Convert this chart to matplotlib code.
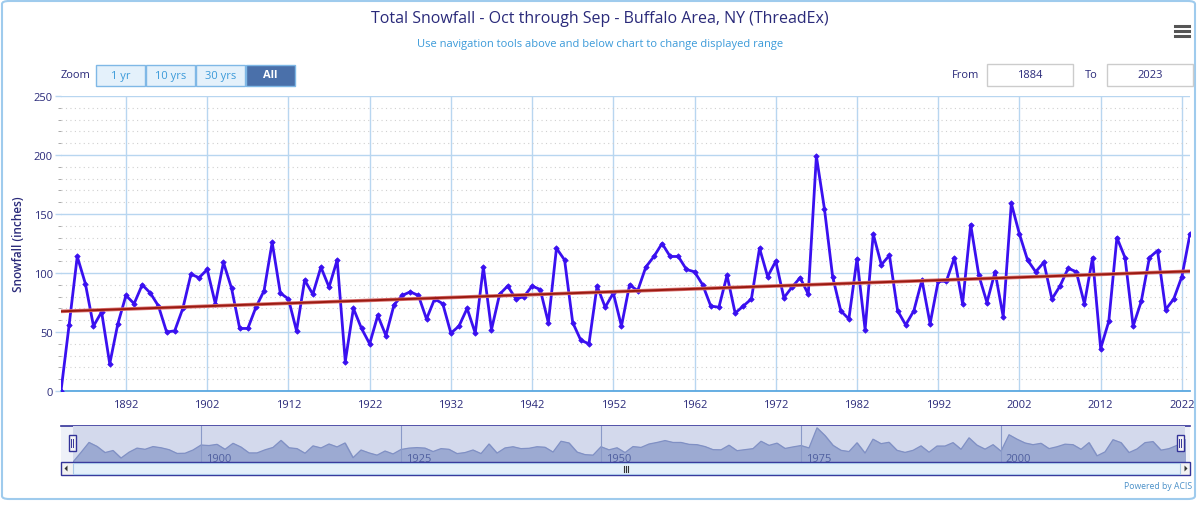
import numpy as np
import matplotlib
matplotlib.use("Agg")
import matplotlib.pyplot as plt
from matplotlib.patches import FancyBboxPatch, Rectangle, Polygon

# ---------------- data ----------------
years = list(range(1884, 2024))
snowfall = [
    0, 56, 114, 91, 55, 67, 23, 57, 81, 74,            # 1884-1893
    90, 83, 72, 50, 51, 70, 99, 96, 103, 74,           # 1894-1903
    109, 87, 53, 53, 71, 85, 126, 83, 78, 51,          # 1904-1913
    94, 82, 105, 88, 111, 25, 70, 53, 40, 64,          # 1914-1923
    47, 73, 81, 84, 81, 61, 78, 74, 49, 55,            # 1924-1933
    70, 49, 105, 52, 82, 89, 78, 80, 89, 86,           # 1934-1943
    58, 121, 111, 58, 43, 40, 89, 71, 83, 55,          # 1944-1953
    90, 85, 105, 114, 125, 114, 114, 103, 101, 90,     # 1954-1963
    72, 71, 98, 66, 72, 78, 121, 97, 110, 79,          # 1964-1973
    88, 96, 82, 199, 154, 97, 68, 61, 112, 52,         # 1974-1983
    133, 107, 115, 68, 56, 68, 94, 57, 93, 93,         # 1984-1993
    113, 74, 141, 98, 75, 101, 63, 159, 133, 111,      # 1994-2003
    101, 109, 78, 89, 104, 101, 74, 113, 36, 59,       # 2004-2013
    130, 113, 55, 76, 113, 119, 69, 78, 97, 133,       # 2014-2023
]
trend_start, trend_end = 67.5, 101.5   # trend line values at 1884 and 2023
x_ticks = list(range(1892, 2023, 10))
y_ticks = [0, 50, 100, 150, 200, 250]
nav_labels = [1900, 1925, 1950, 1975, 2000]

title = "Total Snowfall - Oct through Sep - Buffalo Area, NY (ThreadEx)"
subtitle = "Use navigation tools above and below chart to change displayed range"

W, H = 1200, 506
plt.rcParams['font.family'] = ['Open Sans', 'DejaVu Sans']
fig = plt.figure(figsize=(W / 100, H / 100), dpi=100)

def fx(px):
    return px / W

def fy(py):
    return 1 - py / H

NAVY = '#2a2a7a'
LBLUE = '#3b9ad9'
GRID = '#b8d6f0'

# outer border
fig.patches.append(FancyBboxPatch((fx(2), fy(500)), fx(1195) - fx(2), fy(2) - fy(500),
                                  boxstyle="round,pad=0,rounding_size=0.006",
                                  transform=fig.transFigure, fill=False,
                                  edgecolor='#9fcbed', linewidth=1.5))

fig.text(0.5, fy(19), title, ha='center', va='center', fontsize=11.5, color=NAVY)
fig.text(0.5, fy(45), subtitle, ha='center', va='center', fontsize=8, color=LBLUE)

# hamburger icon
for dy in (-5, 0, 5):
    fig.add_artist(plt.Line2D([fx(1175), fx(1189)], [fy(32 + dy)] * 2,
                              transform=fig.transFigure, color='#555555', linewidth=2.2))

# zoom buttons
fig.text(fx(76), fy(76), "Zoom", ha='center', va='center', fontsize=8, color=NAVY)
btns = [("1 yr", 96), ("10 yrs", 146), ("30 yrs", 196), ("All", 246)]
for lab, x0 in btns:
    sel = lab == "All"
    fig.patches.append(Rectangle((fx(x0), fy(87)), fx(49), fy(66) - fy(87),
                                 transform=fig.transFigure,
                                 facecolor='#4a70aa' if sel else '#e4f1fb',
                                 edgecolor='#7fb8e6', linewidth=1))
    fig.text(fx(x0 + 24.5), fy(76), lab, ha='center', va='center', fontsize=8,
             color='white' if sel else LBLUE, fontweight='bold' if sel else 'normal')

# From / To boxes
fig.text(fx(966), fy(75), "From", ha='center', va='center', fontsize=8, color=NAVY)
fig.text(fx(1091), fy(75), "To", ha='center', va='center', fontsize=8, color=NAVY)
for val, x0 in ((str(years[0]), 987), (str(years[-1]), 1107)):
    fig.patches.append(Rectangle((fx(x0), fy(87)), fx(86), fy(65) - fy(87),
                                 transform=fig.transFigure, facecolor='white',
                                 edgecolor='#cccccc', linewidth=1))
    fig.text(fx(x0 + 43), fy(76), val, ha='center', va='center', fontsize=8, color=NAVY)

# ---------------- main plot ----------------
ax = fig.add_axes([fx(61), fy(392), fx(1190) - fx(61), fy(97) - fy(392)])
ax.set_xlim(years[0], years[-1])
ax.set_ylim(0, 250)
ax.set_yticks(y_ticks)
ax.set_yticks(np.arange(0, 251, 10), minor=True)
ax.set_xticks(x_ticks)
ax.grid(True, which='major', axis='both', color=GRID, linewidth=1)
ax.grid(True, which='minor', axis='y', color='#d0d0d0', linewidth=0.8, linestyle=(0, (1, 3)))
ax.set_axisbelow(True)
for s in ('top', 'right', 'left'):
    ax.spines[s].set_visible(False)
ax.spines['bottom'].set_color('#5aa8e0')
ax.spines['bottom'].set_linewidth(1.3)
ax.tick_params(axis='x', which='both', length=0, colors=NAVY, labelsize=8, pad=6)
ax.tick_params(axis='y', which='major', length=4, color=GRID, width=1,
               labelcolor=NAVY, labelsize=8, pad=2)
ax.tick_params(axis='y', which='minor', length=2, color='#aaaaaa', width=0.7, direction='out')
ax.set_ylabel("Snowfall (inches)", color=NAVY, fontsize=8.5, labelpad=6, fontweight='semibold')

ax.plot(years, snowfall, color='#3a10f0', linewidth=2, marker='D', markersize=2.8,
        markeredgewidth=0.5, zorder=3)
ax.plot([years[0], years[-1]], [trend_start, trend_end], color='#d87070',
        linewidth=2.6, zorder=4, solid_capstyle='butt')
ax.plot([years[0], years[-1]], [trend_start, trend_end], color='#9a1a10',
        linewidth=1.4, zorder=5)

# ---------------- navigator ----------------
nav_bg = fig.add_axes([fx(61), fy(463), fx(1190) - fx(61), fy(427) - fy(463)])
nav_bg.set_xlim(0, 1)
nav_bg.set_ylim(0, 1)
nav_bg.axis('off')
nav_bg.add_patch(Rectangle((0, 0), 1, 1, facecolor='#eef1f8', edgecolor='none'))
nav_bg.plot([0, 1], [1, 1], color='#333399', linewidth=1.2, clip_on=False)

nav = fig.add_axes([fx(73), fy(463), fx(1185) - fx(73), fy(427) - fy(463)])
nav.set_xlim(years[0], years[-1])
nav.set_ylim(0, 210)
nav.axis('off')
nav.add_patch(Rectangle((years[0], 0), years[-1] - years[0], 210,
                        facecolor='#d3d9ec', edgecolor='none', zorder=0))
nav.fill_between(years, snowfall, 0, color='#9caad2', zorder=1)
nav.plot(years, snowfall, color='#8090c4', linewidth=0.9, zorder=2)
for yv in nav_labels:
    nav.axvline(yv, color='#8a9ac8', linewidth=0.8, zorder=2)
    nav.text(yv + 0.6, 20, str(yv), fontsize=8, color='#5060a0', ha='left', va='center', zorder=3)

# handles
for px in (72, 1180):
    fig.patches.append(Rectangle((fx(px - 3.5), fy(452)), fx(7), fy(436) - fy(452),
                                 transform=fig.transFigure, facecolor='#f4f4f4',
                                 edgecolor='#333399', linewidth=1))
    fig.add_artist(plt.Line2D([fx(px - 1)] * 2, [fy(448), fy(440)], transform=fig.transFigure,
                              color='#333399', linewidth=0.7))
    fig.add_artist(plt.Line2D([fx(px + 1)] * 2, [fy(448), fy(440)], transform=fig.transFigure,
                              color='#333399', linewidth=0.7))

# scrollbar
fig.patches.append(Rectangle((fx(61), fy(476)), fx(1190) - fx(61), fy(463) - fy(476),
                             transform=fig.transFigure, facecolor='#f2f2f2',
                             edgecolor='#333399', linewidth=1))
fig.patches.append(Rectangle((fx(73), fy(475)), fx(1180) - fx(73), fy(464) - fy(475),
                             transform=fig.transFigure, facecolor='#e4f0fa',
                             edgecolor='#a8c8e8', linewidth=0.8))
for px in (66, 1186):
    d = -1 if px < 600 else 1
    fig.patches.append(Polygon([(fx(px - d * 1.5), fy(466.5)), (fx(px - d * 1.5), fy(472.5)),
                                (fx(px + d * 1.5), fy(469.5))], closed=True,
                               transform=fig.transFigure, facecolor='#333333', edgecolor='none'))
for k in (-2, 0, 2):
    fig.add_artist(plt.Line2D([fx(626 + k)] * 2, [fy(466.5), fy(472.5)], transform=fig.transFigure,
                              color='#333333', linewidth=0.8))

fig.text(fx(1192), fy(487), "Powered by ACIS", ha='right', va='center', fontsize=6.2, color='#4a90c8')

fig.savefig("out.png", dpi=100)
